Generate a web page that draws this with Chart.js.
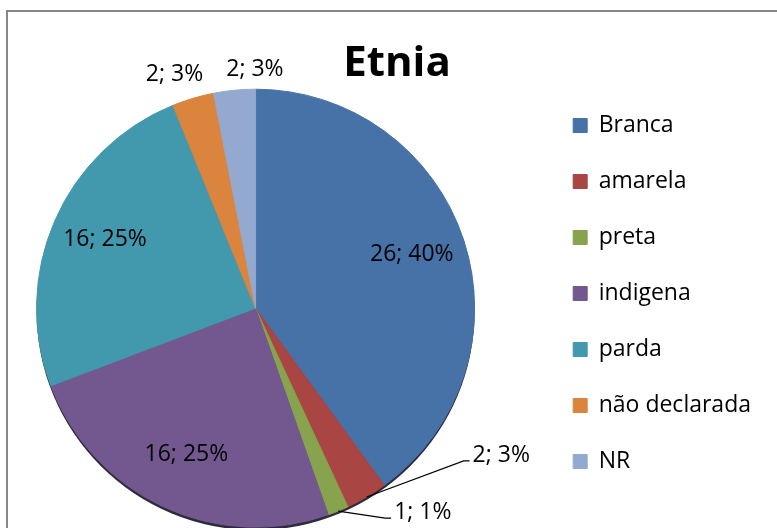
<!DOCTYPE html>
<html lang="pt">
<head>
<meta charset="UTF-8">
<title>Etnia</title>
<script src="https://cdn.jsdelivr.net/npm/chart.js"></script>
<style>
  html, body { margin: 0; padding: 0; background: #fff; }
  #wrap { position: relative; width: 777px; height: 528px; overflow: hidden; }
  #frame { position: absolute; left: 6px; top: 10px; width: 800px; height: 600px; border: 2px solid #878787; box-sizing: border-box; }
  /* canvas is a bit wider and pulled left so the pie sits where the original has it */
  #etniaChart { position: absolute; left: -29px; top: 0; }
</style>
</head>
<body>
<div id="wrap">
  <div id="frame"></div>
  <canvas id="etniaChart" width="806" height="528"></canvas>
</div>
<script>
// values
const categories = ['Branca', 'amarela', 'preta', 'indigena', 'parda', 'não declarada', 'NR'];
const counts = [26, 2, 1, 16, 16, 2, 2];
const percentLabels = ['40%', '3%', '1%', '25%', '25%', '3%', '3%'];
const sliceColors = ['#4672a8', '#a94542', '#87a34d', '#72588f', '#4299ae', '#db843d', '#93a9cf'];

const FONT = "'Open Sans', 'Noto Sans', sans-serif";

// small slices get their label outside; leader = with a line
const callouts = {
  1: { leader: true, dx: 97, dy: -36 },
  2: { leader: true, dx: 47, dy: 7 },
  5: { dx: -11, dy: 1 },
  6: { dx: 23, dy: 5 }
};

// dark rim under the pie (3D look of the original)
const pieRim = {
  id: 'pieRim',
  beforeDatasetsDraw(chart) {
    const arc = chart.getDatasetMeta(0).data[0];
    const { x, y, outerRadius } = arc.getProps(['x', 'y', 'outerRadius'], true);
    const ctx = chart.ctx;
    ctx.save();
    ctx.fillStyle = '#2f2a3c';
    ctx.beginPath();
    ctx.arc(x, y + 3, outerRadius, 0, Math.PI * 2);
    ctx.fill();
    ctx.restore();
  }
};

const sliceLabels = {
  id: 'sliceLabels',
  afterDatasetsDraw(chart) {
    const ctx = chart.ctx;
    const arcs = chart.getDatasetMeta(0).data;
    ctx.save();
    ctx.font = '23px ' + FONT;
    ctx.fillStyle = '#000';
    ctx.strokeStyle = '#000';
    ctx.lineWidth = 1.2;
    ctx.textBaseline = 'middle';
    arcs.forEach((arc, i) => {
      const p = arc.getProps(['x', 'y', 'startAngle', 'endAngle', 'outerRadius'], true);
      const mid = (p.startAngle + p.endAngle) / 2;
      const cx = Math.cos(mid), cy = Math.sin(mid);
      const text = counts[i] + '; ' + percentLabels[i];
      const c = callouts[i];
      if (!c) {
        ctx.textAlign = 'center';
        ctx.fillText(text, p.x + cx * p.outerRadius * 0.75, p.y + cy * p.outerRadius * 0.75 - 3);
      } else if (c.leader) {
        const ex = p.x + cx * p.outerRadius, ey = p.y + cy * p.outerRadius;
        const kx = ex + c.dx, ky = ey + c.dy;
        ctx.beginPath();
        ctx.moveTo(ex, ey);
        ctx.lineTo(kx, ky);
        ctx.lineTo(kx + 6, ky);
        ctx.stroke();
        ctx.textAlign = 'left';
        ctx.fillText(text, kx + 9, ky - 6);
      } else {
        const r = p.outerRadius + 26;
        ctx.textAlign = 'center';
        ctx.fillText(text, p.x + cx * r + c.dx, p.y + cy * r + c.dy);
      }
    });
    ctx.restore();
  }
};

// keep the title centred over the frame rather than over chart + legend
const titleCentre = {
  id: 'titleCentre',
  afterLayout(chart) {
    const t = chart.titleBlock;
    const half = (t.right - t.left) / 2;
    t.left = 426 - half;
    t.right = 426 + half;
  }
};

const ctx = document.getElementById('etniaChart').getContext('2d');
new Chart(ctx, {
  type: 'pie',
  data: {
    labels: categories,
    datasets: [{
      data: counts,
      backgroundColor: sliceColors,
      borderColor: sliceColors,
      borderWidth: 1,
      radius: 219
    }]
  },
  options: {
    responsive: false,
    animation: false,
    layout: { padding: { left: 0, right: 16, top: 0, bottom: 22 } },
    plugins: {
      title: {
        display: true,
        text: 'Etnia',
        color: '#000',
        font: { family: FONT, size: 42, weight: 'bold' },
        padding: { top: 39, bottom: 21 }
      },
      legend: {
        position: 'right',
        align: 'end',
        labels: {
          boxWidth: 14,
          boxHeight: 14,
          padding: 33,
          color: '#000',
          font: { family: FONT, size: 23 }
        }
      },
      tooltip: { enabled: false }
    }
  },
  plugins: [pieRim, sliceLabels, titleCentre]
});
</script>
</body>
</html>
